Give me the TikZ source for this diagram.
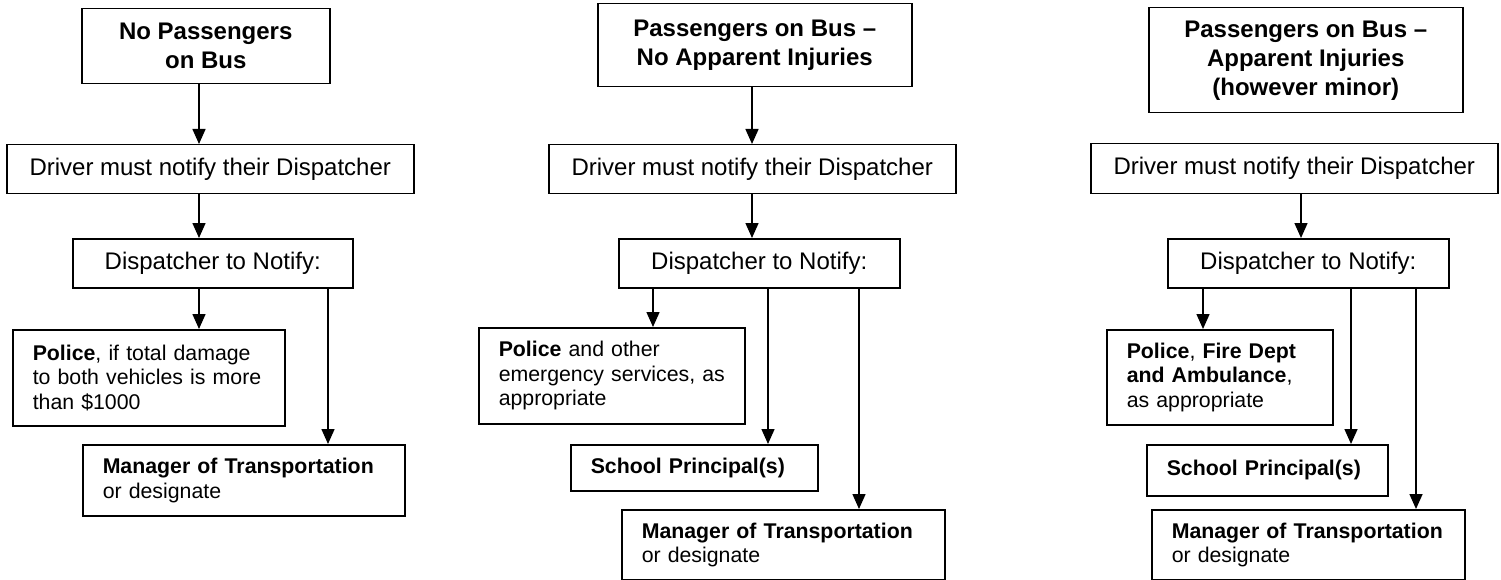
\documentclass[tikz,border=0pt]{standalone}
\usepackage{fontspec}
\setmainfont{Liberation Sans}
\usetikzlibrary{arrows.meta}
\tikzset{
  boxbase/.style={draw, line width=1.5pt, inner ysep=0pt, anchor=north west},
  cbox/.style={boxbase, align=center, inner xsep=0pt, font={\fontsize{24}{29}\selectfont}},
  tbox/.style={cbox, font={\fontsize{24}{29}\selectfont\bfseries}},
  lbox/.style={boxbase, align=left, inner xsep=20pt, font={\fontsize{21.3}{24.5}\selectfont}},
  arr/.style={-{Triangle[width=13pt,length=15pt]}, line width=1.5pt},
}
\begin{document}
\begin{tikzpicture}[x=1pt,y=-1pt]
\useasboundingbox (0,0) rectangle (1501,580);

% ---------- Column 1 ----------
\node[tbox, minimum width=248pt, minimum height=75pt] (t1) at (81,8) {No Passengers\\on Bus};
\node[cbox, minimum width=407pt, minimum height=49pt] (drv1) at (6,144) {Driver must notify their Dispatcher};
\node[cbox, minimum width=280pt, minimum height=49pt] (dsp1) at (72,238) {Dispatcher to Notify:};
\node[lbox, text width=232pt, minimum height=96pt] (pol1) at (12,329) {\mbox{\textbf{Police}, if total damage}\\\mbox{to both vehicles is more}\\\mbox{than \$1000}};
\node[lbox, text width=282pt, minimum height=71pt] (man1) at (82,444) {\mbox{\textbf{Manager of Transportation}}\\or designate};
\coordinate (c1a) at (199,0);
\coordinate (c1b) at (328,0);
\draw[arr] (t1.south -| c1a) -- (drv1.north -| c1a);
\draw[arr] (drv1.south -| c1a) -- (dsp1.north -| c1a);
\draw[arr] (dsp1.south -| c1a) -- (pol1.north -| c1a);
\draw[arr] (dsp1.south -| c1b) -- (man1.north -| c1b);

% ---------- Column 2 ----------
\node[tbox, minimum width=314pt, minimum height=83pt] (t2) at (597,3) {Passengers on Bus --\\No Apparent Injuries};
\node[cbox, minimum width=407pt, minimum height=49pt] (drv2) at (548,144) {Driver must notify their Dispatcher};
\node[cbox, minimum width=281pt, minimum height=49pt] (dsp2) at (618,238) {Dispatcher to Notify:};
\node[lbox, text width=226pt, minimum height=96pt] (pol2) at (478,327) {\mbox{\textbf{Police} and other}\\\mbox{emergency services, as}\\\mbox{appropriate}};
\node[lbox, text width=207pt, minimum height=46pt] (sch2) at (570,444) {\mbox{\textbf{School Principal(s)}}};
\node[lbox, text width=283pt, minimum height=70pt] (man2) at (621,509) {\mbox{\textbf{Manager of Transportation}}\\or designate};
\coordinate (c2a) at (752,0);
\coordinate (c2b) at (653,0);
\coordinate (c2c) at (768,0);
\coordinate (c2d) at (859,0);
\draw[arr] (t2.south -| c2a) -- (drv2.north -| c2a);
\draw[arr] (drv2.south -| c2a) -- (dsp2.north -| c2a);
\draw[arr] (dsp2.south -| c2b) -- (pol2.north -| c2b);
\draw[arr] (dsp2.south -| c2c) -- (sch2.north -| c2c);
\draw[arr] (dsp2.south -| c2d) -- (man2.north -| c2d);

% ---------- Column 3 ----------
\node[tbox, minimum width=314pt, minimum height=105pt] (t3) at (1148,7) {Passengers on Bus --\\Apparent Injuries\\(however minor)};
\node[cbox, minimum width=407pt, minimum height=50pt] (drv3) at (1090,143) {Driver must notify their Dispatcher};
\node[cbox, minimum width=281pt, minimum height=49pt] (dsp3) at (1167,238) {Dispatcher to Notify:};
\node[lbox, text width=186pt, minimum height=95pt] (pol3) at (1106,329) {\mbox{\textbf{Police}, \textbf{Fire Dept}}\\\mbox{\textbf{and Ambulance},}\\\mbox{as appropriate}};
\node[lbox, text width=201pt, minimum height=51pt] (sch3) at (1146,444) {\mbox{\textbf{School Principal(s)}}};
\node[lbox, text width=273pt, minimum height=70pt] (man3) at (1151,509) {\mbox{\textbf{Manager of Transportation}}\\or designate};
\coordinate (c3a) at (1301,0);
\coordinate (c3b) at (1203,0);
\coordinate (c3c) at (1351,0);
\coordinate (c3d) at (1416,0);
\draw[arr] (drv3.south -| c3a) -- (dsp3.north -| c3a);
\draw[arr] (dsp3.south -| c3b) -- (pol3.north -| c3b);
\draw[arr] (dsp3.south -| c3c) -- (sch3.north -| c3c);
\draw[arr] (dsp3.south -| c3d) -- (man3.north -| c3d);
\end{tikzpicture}
\end{document}
